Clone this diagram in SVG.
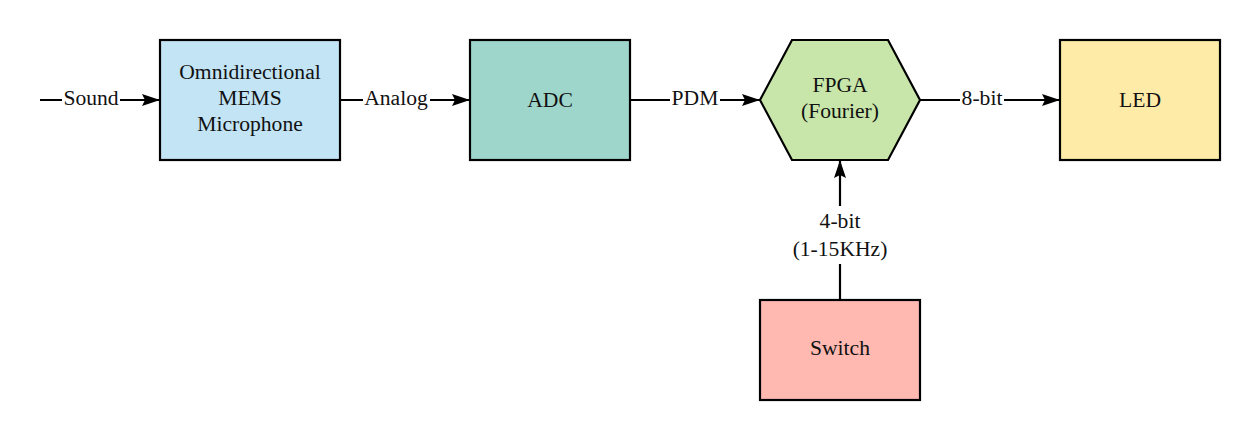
<svg xmlns="http://www.w3.org/2000/svg" width="1260" height="440" viewBox="0 0 1260 440">
<style>
.n{stroke:#000;stroke-width:2.2}
.t{font-family:"Liberation Serif","Times New Roman",serif;font-size:21.6px;fill:#111;text-anchor:middle}
.e{stroke:#000;stroke-width:2.2;fill:none}
.lb{fill:#fff}
</style>
<defs>
<marker id="ah" markerUnits="userSpaceOnUse" markerWidth="20" markerHeight="14" refX="18" refY="6" orient="auto">
<path d="M0,0 L18,6 L0,12 L3,6 z" fill="#000"/>
</marker>
</defs>
<rect width="1260" height="440" fill="#fff"/>
<g id="connectors">
<line class="e" x1="40" y1="100" x2="160" y2="100" marker-end="url(#ah)"/>
<line class="e" x1="340" y1="100" x2="470" y2="100" marker-end="url(#ah)"/>
<line class="e" x1="630" y1="100" x2="760" y2="100" marker-end="url(#ah)"/>
<line class="e" x1="920" y1="100" x2="1060" y2="100" marker-end="url(#ah)"/>
<line class="e" x1="840" y1="300" x2="840" y2="160" marker-end="url(#ah)"/>
<rect class="lb" x="62" y="88" width="58" height="24"/>
<text class="t" x="91" y="105">Sound</text>
<rect class="lb" x="363" y="88" width="67" height="24"/>
<text class="t" x="396" y="105">Analog</text>
<rect class="lb" x="670" y="88" width="50" height="24"/>
<text class="t" x="695" y="105">PDM</text>
<rect class="lb" x="960" y="88" width="44" height="24"/>
<text class="t" x="982" y="105">8-bit</text>
<rect class="lb" x="790" y="206" width="100" height="58"/>
<text class="t" x="840" y="228">4-bit</text>
<text class="t" x="840" y="256">(1-15KHz)</text>
</g>
<g id="mic">
<rect class="n" x="160" y="40" width="180" height="120" fill="#c2e4f5"/>
<text class="t" x="250" y="79">Omnidirectional</text>
<text class="t" x="250" y="105">MEMS</text>
<text class="t" x="250" y="131">Microphone</text>
</g>
<g id="adc">
<rect class="n" x="470" y="40" width="160" height="120" fill="#9ed6cc"/>
<text class="t" x="550" y="107">ADC</text>
</g>
<g id="fpga">
<polygon class="n" points="760,100 792,40 888,40 920,100 888,160 792,160" fill="#c8e6aa"/>
<text class="t" x="840" y="92">FPGA</text>
<text class="t" x="840" y="118">(Fourier)</text>
</g>
<g id="led">
<rect class="n" x="1060" y="40" width="160" height="120" fill="#ffeba8"/>
<text class="t" x="1140" y="107">LED</text>
</g>
<g id="switch">
<rect class="n" x="760" y="300" width="160" height="100" fill="#ffb9b1"/>
<text class="t" x="840" y="355">Switch</text>
</g>
</svg>
